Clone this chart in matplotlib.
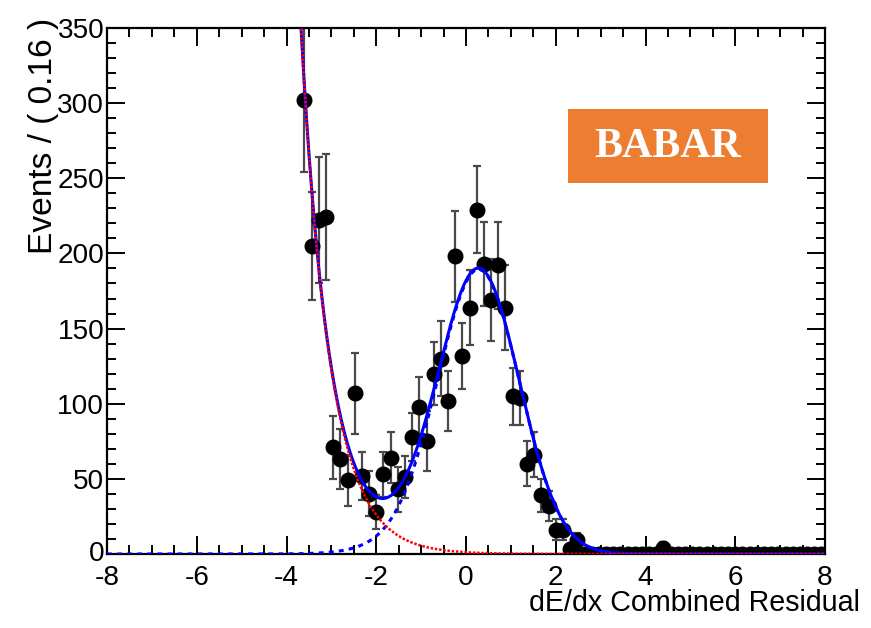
import numpy as np
import matplotlib
matplotlib.use("Agg")
import matplotlib.pyplot as plt
from matplotlib import font_manager
from matplotlib.patches import Rectangle
from matplotlib.ticker import MultipleLocator
from matplotlib.transforms import ScaledTranslation

plt.rcParams["axes.unicode_minus"] = False

# ---- histogram of the combined dE/dx residual (bin width 0.16) ----
bin_width = 0.16
first_center = -3.60
events = [302, 205, 222, 224, 71, 63, 49, 107, 52, 40,
          28, 53, 64, 43, 51, 78, 98, 75, 120, 130,
          102, 198, 132, 164, 229, 193, 169, 192, 164, 105,
          104, 60, 66, 39, 32, 16, 16, 3, 9,
          0, 0, 0, 0, 0, 0, 0, 0, 0, 0, 0, 4, 0, 0, 0, 0, 0,
          0, 0, 0, 0, 0, 0, 0, 0, 0, 0, 0, 0, 0, 0, 0, 0, 0]
errors = [48, 36, 42, 42, 21, 20, 17, 27, 16, 15,
          11.5, 15, 17, 15, 14, 16, 20, 20, 21, 25,
          20, 30, 22, 25, 29, 28, 27, 29, 28, 19,
          18, 15, 15, 11, 10, 7, 7, 3, 5,
          0, 0, 0, 0, 0, 0, 0, 0, 0, 0, 0, 4, 0, 0, 0, 0, 0,
          0, 0, 0, 0, 0, 0, 0, 0, 0, 0, 0, 0, 0, 0, 0, 0, 0]

# ---- fit model parameters ----
bkg_norm, bkg_ref, bkg_slope = 56.5, -2.5, 1.55          # exponential background
sig_norm, sig_mean, sig_width = 186.0, 0.30, 0.90         # signal core
tail_norm, tail_mean, tail_width = 8.0, -1.0, 1.0         # signal tail

x_ticks = [-8, -6, -4, -2, 0, 2, 4, 6, 8]
y_ticks = [0, 50, 100, 150, 200, 250, 300, 350]

available = {f.name for f in font_manager.fontManager.ttflist}
sans = ["Liberation Sans Narrow", "Liberation Sans"] if "Liberation Sans Narrow" in available else ["Liberation Sans"]
plt.rcParams["font.family"] = sans

W, H = 871, 628
fig = plt.figure(figsize=(W / 100, H / 100), dpi=100)
ax = fig.add_axes([107 / W, 74 / H, 718 / W, 526 / H])

centers = first_center + bin_width * np.arange(len(events))
vals = np.array(events, dtype=float)
errs = np.array(errors, dtype=float)

ax.errorbar(centers, vals, yerr=errs, fmt="o", color="black", ms=10.5,
            ecolor="#4a4a4a", elinewidth=1.6, capsize=3, capthick=1.6, zorder=2)

xs = np.linspace(-8, 8, 2000)
bkg = bkg_norm * np.exp(-bkg_slope * (xs - bkg_ref))
sig = (sig_norm * np.exp(-0.5 * ((xs - sig_mean) / sig_width) ** 2)
       + tail_norm * np.exp(-0.5 * ((xs - tail_mean) / tail_width) ** 2))
total = bkg + sig

ax.plot(xs, sig, color="#0000ff", lw=2.2, linestyle=(0, (1.6, 1.7)), zorder=3)
ax.plot(xs, total, color="#0000ff", lw=2.2, zorder=4)
ax.plot(xs, bkg, color="#ff0000", lw=1.8, linestyle=(0, (1.0, 0.7)), zorder=5)

ax.set_xlim(-8, 8)
ax.set_ylim(0, 350)
ax.set_xticks(x_ticks)
ax.set_yticks(y_ticks)
ax.xaxis.set_minor_locator(MultipleLocator(0.5))
ax.yaxis.set_minor_locator(MultipleLocator(10))
ax.tick_params(which="both", direction="in", top=True, right=True, width=1.4, color="black")
ax.tick_params(which="major", length=13)
ax.tick_params(which="minor", length=6.5)
ax.tick_params(axis="y", which="major", pad=2)
ax.tick_params(axis="x", which="major", pad=8)
for s in ax.spines.values():
    s.set_linewidth(1.6)

xlab = fig.text(860 / W, (H - 611) / H, "dE/dx Combined Residual", ha="right", va="baseline", fontsize=22)
ylab = fig.text(44 / W, (H - 18) / H, "Events / ( 0.16 )", rotation=90, ha="center", va="top", fontsize=22)

fig.patches.append(Rectangle((568 / W, (H - 183) / H), 200 / W, 74 / H,
                             transform=fig.transFigure, facecolor="#ED7D31", edgecolor="none"))
babar = fig.text(668 / W, (H - 147) / H, "BABAR", color="white", ha="center", va="center",
                 fontsize=30, fontweight="bold", family=["Liberation Serif", "DejaVu Serif"])

ax.tick_params(labelsize=20)

# size the texts to their intended pixel widths
fig.canvas.draw()
r = fig.canvas.get_renderer()
lab350 = [t for t in ax.get_yticklabels() if t.get_text() == "350"][0]
ax.tick_params(labelsize=20 * 47 / lab350.get_window_extent(r).width)
for txt, target, horizontal in ((xlab, 330, True), (ylab, 237, False), (babar, 147, True)):
    bb = txt.get_window_extent(r)
    size = bb.width if horizontal else bb.height
    txt.set_fontsize(txt.get_fontsize() * target / size)

# lift the "0" label on the y axis a little so it clears the "-8" below it
zero_tick = ax.yaxis.get_major_ticks()[0]
zero_tick.label1.set_transform(zero_tick.label1.get_transform()
                               + ScaledTranslation(0, 3 / 100, fig.dpi_scale_trans))

fig.savefig("out.png", dpi=100)
